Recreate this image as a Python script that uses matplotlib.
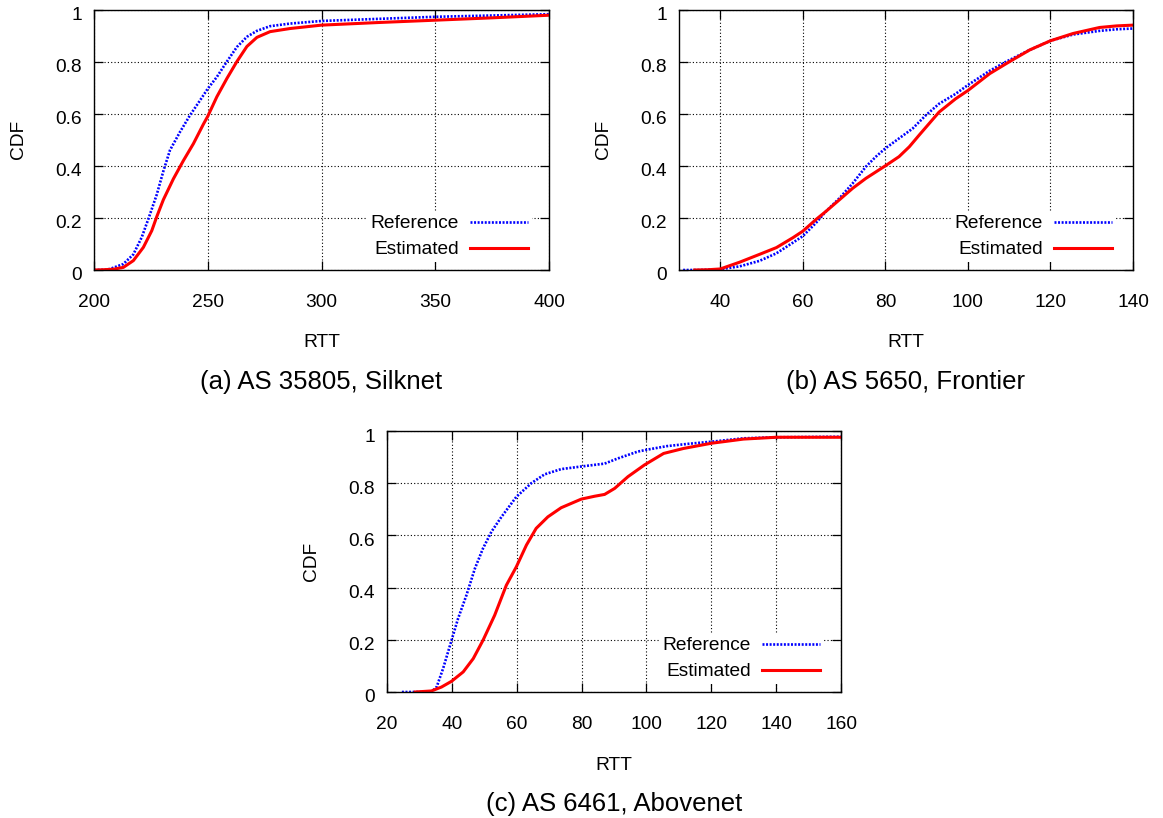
import matplotlib
matplotlib.use("Agg")
import matplotlib.pyplot as plt
import matplotlib.transforms as mtransforms

plt.rcParams['font.family'] = ['Liberation Sans', 'DejaVu Sans']

# CDF of RTT, reference vs estimated, three ASes
a_ref_x = [200, 205, 207, 212.9, 217.3, 221, 223.9, 227.6, 230.5, 233.4, 237.8, 242.2, 246.6, 250,
           254, 258.4, 262.8, 267.2, 271.6, 277.4, 286.2, 300, 325, 350, 375, 400]
a_ref_y = [0, 0.001, 0.004, 0.023, 0.06, 0.126, 0.196, 0.29, 0.38, 0.46, 0.53, 0.594, 0.651, 0.696,
           0.741, 0.8, 0.856, 0.895, 0.918, 0.936, 0.946, 0.956, 0.964, 0.972, 0.977, 0.982]
a_est_x = [200, 204, 208.5, 212.9, 217.3, 221.7, 225.4, 227.6, 230.5, 234.9, 239.3, 243.7, 248.1, 250,
           254, 258.4, 262.8, 267.2, 271.6, 277.4, 286.2, 300, 325, 350, 375, 400]
a_est_y = [0, 0.001, 0.003, 0.01, 0.036, 0.087, 0.151, 0.205, 0.27, 0.35, 0.42, 0.485, 0.56, 0.59,
           0.665, 0.735, 0.8, 0.858, 0.893, 0.915, 0.927, 0.94, 0.95, 0.959, 0.968, 0.978]

b_ref_x = [31, 35, 40, 44.7, 49.5, 53.6, 57.6, 60, 63.2, 65.6, 68.9, 72.1, 75.3, 77.7, 80, 83.3, 86.6,
           89.8, 93, 97, 100, 105.3, 109.3, 115, 120, 125.5, 131.9, 136, 140]
b_ref_y = [0, 0, 0.003, 0.014, 0.035, 0.064, 0.105, 0.13, 0.181, 0.225, 0.276, 0.333, 0.397, 0.435,
           0.467, 0.505, 0.543, 0.594, 0.638, 0.676, 0.71, 0.765, 0.8, 0.845, 0.88, 0.904, 0.918, 0.924, 0.927]
b_est_x = [33.8, 37, 40, 44.7, 49.5, 53.6, 57.6, 60, 63.2, 65.6, 68.9, 72.1, 75.3, 80, 83.3, 85.8, 88.2,
           90.6, 93, 97, 100, 105.3, 110.1, 115, 120, 125.5, 131.9, 136, 140]
b_est_y = [0, 0.001, 0.004, 0.03, 0.06, 0.086, 0.124, 0.149, 0.194, 0.225, 0.27, 0.314, 0.352, 0.4,
           0.435, 0.473, 0.518, 0.562, 0.606, 0.657, 0.689, 0.754, 0.8, 0.845, 0.88, 0.908, 0.931, 0.937, 0.94]

c_ref_x = [24.6, 33.7, 35.3, 37.3, 39.9, 41.9, 44.5, 47.1, 49.6, 52.2, 55.3, 59.9, 64.5, 68.6, 73.7,
           79.9, 87.1, 91.2, 97.3, 100, 106.3, 113, 120, 129.9, 140, 150, 160]
c_ref_y = [0, 0, 0.019, 0.09, 0.198, 0.281, 0.371, 0.473, 0.55, 0.614, 0.671, 0.748, 0.8, 0.834, 0.854,
           0.864, 0.875, 0.895, 0.921, 0.928, 0.942, 0.951, 0.959, 0.972, 0.976, 0.977, 0.978]
c_est_x = [28.7, 33.7, 36.8, 39.9, 43.5, 46.6, 49.6, 53.2, 56.8, 59.9, 63, 66, 69.6, 73.7, 79.9, 84,
           87.1, 90.2, 94.3, 99.4, 105.3, 111.4, 120, 129.9, 140, 150, 160]
c_est_y = [0, 0.004, 0.019, 0.041, 0.077, 0.128, 0.198, 0.294, 0.409, 0.48, 0.563, 0.627, 0.671, 0.706,
           0.739, 0.75, 0.757, 0.78, 0.825, 0.87, 0.914, 0.933, 0.953, 0.969, 0.976, 0.976, 0.976]

a_xticks = [200, 250, 300, 350, 400]
b_xticks = [40, 60, 80, 100, 120, 140]
c_xticks = [20, 40, 60, 80, 100, 120, 140, 160]
y_ticks = [0, 0.2, 0.4, 0.6, 0.8, 1.0]
y_ticklabels = ['0', '0.2', '0.4', '0.6', '0.8', '1']

captions = ['(a) AS 35805, Silknet', '(b) AS 5650, Frontier', '(c) AS 6461, Abovenet']

fig = plt.figure(figsize=(11.63, 8.18), dpi=100)
W, H = 1163.0, 818.0


def make_axes(left, right, top, bottom):
    return fig.add_axes([left / W, 1 - bottom / H, (right - left) / W, (bottom - top) / H])


ax_a = make_axes(94, 549, 9.5, 270)
ax_b = make_axes(679, 1133, 9.5, 270)
ax_c = make_axes(387, 841, 431, 692)

panels = [
    (ax_a, a_ref_x, a_ref_y, a_est_x, a_est_y, (200, 400), a_xticks, captions[0]),
    (ax_b, b_ref_x, b_ref_y, b_est_x, b_est_y, (30, 140), b_xticks, captions[1]),
    (ax_c, c_ref_x, c_ref_y, c_est_x, c_est_y, (20, 160), c_xticks, captions[2]),
]

fs = 13.8
shift_down = mtransforms.ScaledTranslation(0, -4 / 100, fig.dpi_scale_trans)

for ax, rx, ry, ex, ey, xlim, xticks, cap in panels:
    ax.plot(rx, ry, color='#0000ff', lw=1.9, linestyle=(0, (0.75, 0.6)), label='Reference')
    ax.plot(ex, ey, color='#ff0000', lw=2.2, label='Estimated')
    ax.set_xlim(*xlim)
    ax.set_ylim(0, 1)
    ax.set_xticks(xticks)
    ax.set_yticks(y_ticks)
    ax.set_yticklabels(y_ticklabels)
    ax.grid(True, color='black', lw=0.8, linestyle=(0, (1, 2)))
    ax.tick_params(direction='in', length=6.5, width=0.9, top=True, right=True,
                   labelsize=fs, colors='black')
    ax.tick_params(axis='x', pad=17)
    ax.tick_params(axis='y', pad=8.5)
    for lab in ax.get_yticklabels():
        lab.set_transform(lab.get_transform() + shift_down)
    for sp in ax.spines.values():
        sp.set_linewidth(1.0)
    ax.set_xlabel('RTT', fontsize=fs, va='center')
    ax.xaxis.set_label_coords(0.5, -0.28)
    ax.set_ylabel('CDF', fontsize=fs, va='center')
    ax.yaxis.set_label_coords(-0.167, 0.5)
    ax.text(0.5, -0.43, cap, transform=ax.transAxes, ha='center', va='center', fontsize=18.5)
    leg = ax.legend(loc='lower right', bbox_to_anchor=(0.962, 0.03), borderaxespad=0,
                    markerfirst=False, fontsize=fs, handlelength=3.0, handletextpad=0.6,
                    labelspacing=0.45, borderpad=0.2, fancybox=False, framealpha=1)
    leg.get_frame().set_edgecolor('none')
    leg.get_frame().set_facecolor('white')

fig.savefig('out.png', dpi=100)
